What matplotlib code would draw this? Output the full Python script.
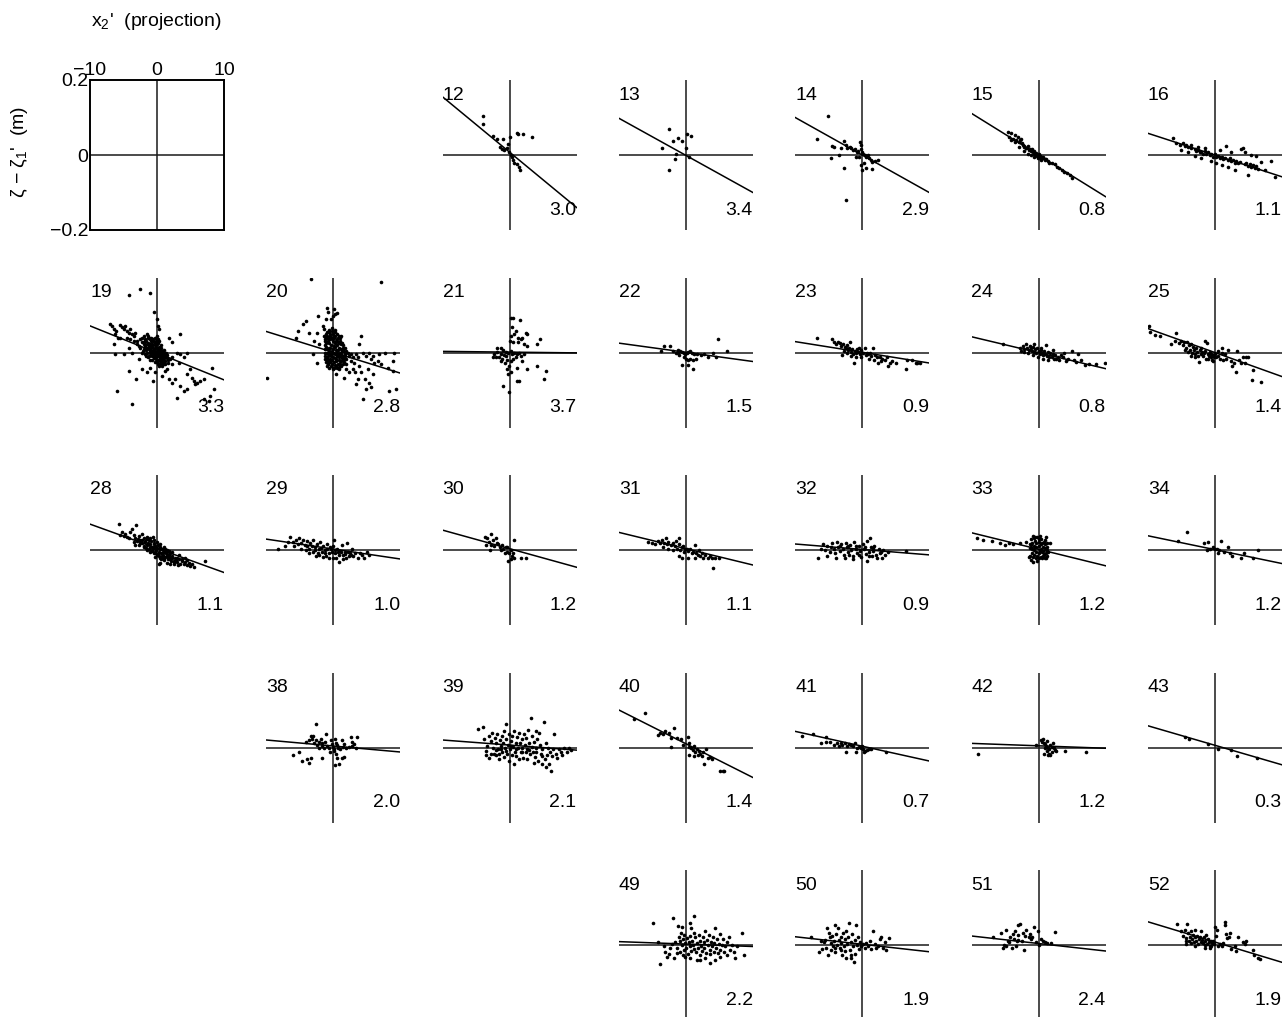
import matplotlib
matplotlib.use("Agg")
import matplotlib.pyplot as plt

plt.rcParams['font.family'] = ['Liberation Sans', 'DejaVu Sans']
plt.rcParams['mathtext.fontset'] = 'custom'
plt.rcParams['mathtext.rm'] = 'Liberation Sans'
plt.rcParams['mathtext.it'] = 'Liberation Sans:italic'

# ---------------- data (x2' projection, zeta difference in m) ----------------
pts_12 = [(-3.98,0.104),(-3.98,0.082),(-2.49,0.051),(-1.84,0.044),(-1.0,0.044),(0,0.047),(-1.44,0.022),
          (-1.19,0.016),(-0.85,0.013),(-0.35,0.020),(-0.2,0.029),(-0.05,0.007),(0.15,0),(0.3,-0.004),
          (0.55,-0.013),(0.65,-0.020),(1.04,-0.025),(1.39,-0.031),(1.54,-0.040),(1.14,0.060),(1.24,0.057),
          (2.04,0.057),(3.38,0.048)]
pts_13 = [(-2.49,0.069),(-1.89,0.037),(-1.24,0.046),(-0.65,0.037),(0.1,0.055),(0.8,0.052),(0,0.020),
          (-3.58,0.018),(-1.49,0.003),(-1.64,-0.011),(0.5,-0.004),(-2.54,-0.040)]
pts_14 = [(-5.12,0.104),(-6.82,0.043),(-4.48,0.025),(-4.23,0.022),(-4.73,-0.009),(-3.48,0),(-3.23,0.020),
          (-2.74,0.037),(-2.49,0.027),(-2.24,0.018),(-1.89,0.022),(-1.64,0.018),(-1.34,0.013),(-1.14,0.016),
          (-0.85,0.009),(-0.65,0.011),(-0.35,0.036),(-0.25,0.027),(-0.25,0.016),(-0.05,0.007),(0.15,0.002),
          (0.35,0),(0.55,-0.004),(0.85,0),(1.0,-0.009),(1.24,-0.013),(1.49,-0.018),(1.84,-0.016),
          (2.34,-0.014),(0.25,-0.020),(-0.25,-0.027),(0,-0.040),(0.5,-0.034),(1.49,-0.037),(-2.74,-0.034),
          (-2.39,-0.120),(-1.0,-0.004),(-0.5,-0.004)]
pts_15 = [(-4.58,0.062),(-4.08,0.058),(-3.58,0.053),(-4.33,0.049),(-3.83,0.044),(-3.33,0.040),(-3.08,0.049),
          (-2.84,0.036),(-2.59,0.044),(-2.49,0.031),(-2.84,0.022),(-2.34,0.027),(-2.09,0.022),(-1.84,0.018),
          (-1.59,0.025),(-1.49,0.013),(-1.19,0.011),(-1.0,0.016),(-0.85,0.007),(-0.70,0.004),(-0.50,0.002),
          (-0.35,0),(-0.20,-0.003),(0,0.002),(0.15,-0.005),(0.30,-0.007),(0.50,-0.004),(0.70,-0.009),
          (0.90,-0.012),(1.14,-0.011),(1.39,-0.016),(1.64,-0.020),(1.99,-0.022),(2.39,-0.025),(2.79,-0.031),
          (3.13,-0.034),(3.48,-0.040),(3.88,-0.044),(4.28,-0.049),(4.63,-0.053),(4.98,-0.060),(-0.6,-0.004),
          (-0.1,-0.009),(0.4,-0.013),(-1.09,0),(-1.59,0.004),(-2.09,0.011),(-3.58,0.036),(-4.08,0.040),
          (-2.69,0.040),(-1.8,0.020),(-1.3,0.015),(-0.9,0.010),(-0.4,0.005),(0.2,-0.002),(0.6,-0.006),
          (1.0,-0.010),(-2.2,0.025),(-0.7,0.012),(0.4,-0.010)]
pts_16 = [(-6.22,0.046),(-5.72,0.031),(-5.22,0.027),(-4.73,0.031),(-4.48,0.025),(-4.23,0.028),(-3.98,0.022),
          (-3.48,0.020),(-2.99,0.016),(-2.74,0.011),(-2.49,0.013),(-2.24,0.007),(-1.99,0.009),(-1.74,0.004),
          (-1.49,0.011),(-1.24,0.002),(-1.0,0.007),(-0.75,0),(-0.5,0.004),(-0.25,-0.004),(0,0.002),
          (0.25,-0.005),(0.5,-0.002),(0.75,-0.009),(1.0,-0.004),(1.24,-0.011),(1.49,-0.007),(1.74,0.025),
          (1.99,-0.013),(2.24,-0.009),(2.49,-0.016),(2.74,-0.012),(2.99,-0.020),(3.23,-0.016),(3.48,-0.022),
          (3.73,-0.018),(3.98,0.016),(4.23,0.020),(4.48,-0.025),(4.73,-0.020),(4.98,-0.028),(5.22,-0.025),
          (5.47,-0.031),(5.72,-0.027),(5.97,-0.034),(6.22,-0.030),(6.47,-0.036),(6.97,-0.018),(7.46,-0.040),
          (8.46,-0.016),(8.96,-0.058),(4.98,-0.053),(2.99,-0.040),(1.99,-0.031),(1.0,-0.027),(0.25,-0.020),
          (-0.5,-0.016),(-1.99,-0.009),(-2.99,-0.002),(-3.98,0.009),(-2.49,0.022),(-1.49,0.020),(-3.48,0.027),
          (-4.98,0.013),(5.47,0),(6.22,-0.002),(4.48,0.007),(2.49,0.009),(0.75,0.013)]
pts_19 = [(-7.06,0.076),(-6.72,0.071),(-6.47,0.062),(-6.07,0.058),(-5.57,0.073),(-5.22,0.067),(-4.98,0.062),
          (-4.73,0.071),(-4.48,0.058),(-4.23,0.053),(-3.98,0.064),(-3.73,0.049),(-3.48,0.044),(-3.23,0.053),
          (-6.22,0.049),(-6.47,0.022),(-6.22,-0.003),(-4.98,-0.003),(-4.23,0.013),(-3.73,0),(-2.99,0.031),
          (-2.74,0.018),(-2.49,0.036),(-2.24,0.027),(-1.99,0.022),(-1.74,0.031),(-1.49,0.013),(-1.24,0.018),
          (-1.0,0.009),(-0.75,0.022),(-0.5,0.004),(-0.25,0.013),(-0.1,0),(0.1,0.007),(0.25,-0.004),(0.5,0.002),
          (0.75,-0.009),(1.0,-0.002),(1.24,-0.013),(1.49,-0.007),(0.4,-0.018),(-0.25,-0.013),(-0.75,-0.020),
          (-1.24,-0.009),(-1.74,-0.004),(-2.24,0),(0.6,0.013),(0,0.022),(-0.75,0.036),(-1.24,0.040),
          (-1.49,0.049),(0.1,0.071),(0.25,0.062),(-0.5,0.108),(0,0.089),(-4.23,0.154),(-2.49,0.169),
          (-1.0,0.160),(1.74,0.040),(2.24,0.027),(3.48,0.049),(2.99,0),(3.48,-0.004),(3.98,-0.013),(4.48,0),
          (3.23,-0.027),(2.24,-0.031),(1.49,-0.044),(1.24,-0.049),(0.75,-0.062),(0.25,-0.036),(-0.25,-0.053),
          (-0.6,-0.076),(-1.0,-0.040),(-1.49,-0.053),(-2.24,-0.044),(-2.74,-0.018),(-3.08,-0.071),
          (-4.23,-0.049),(-5.97,-0.102),(-3.73,-0.138),(1.74,-0.071),(2.24,-0.080),(2.74,-0.071),
          (3.48,-0.089),(3.98,-0.102),(2.99,-0.120),(4.48,-0.098),(5.47,-0.076),(5.97,-0.080),(6.47,-0.076),
          (6.97,-0.071),(8.21,-0.040),(8.46,-0.096),(7.71,-0.129),(7.96,-0.116),(6.97,-0.123),(4.48,-0.058),
          (5.22,-0.067),(5.72,-0.084),(4.98,-0.044),(2.24,-0.013),(1.99,-0.018),(1.59,-0.027),(1.0,-0.027),
          (0.75,-0.036),(0.5,-0.022),(-0.25,-0.004),(-0.75,0),(-1.09,0.002),(-1.59,0.007),(-1.99,0.009),
          (-2.49,0.013),(-2.99,0.022),(-3.48,0.031),(-3.98,0.036),(-4.48,0.040),(-5.47,0.040),(-5.87,0.040),
          (-1.2,0.02),(-0.8,0.015),(-0.4,0.01),(0,0.005),(0.4,0.0),(0.8,-0.005),(1.2,-0.01),(-1.0,0.005),
          (-0.6,0.0),(-0.2,-0.005),(0.2,-0.01),(0.6,-0.015),(-1.4,0.025),(-0.9,0.03),(-0.3,0.025),(0.3,0.015),
          (0.9,0.005),(1.4,-0.005),(-0.5,-0.01),(0.1,-0.02),(0.7,-0.025),(1.1,-0.02),(-1.6,0.01),(-0.1,0.015),
          (-1.8,0.035),(-1.4,0.04),(-1.0,0.035),(-0.6,0.03),(-0.2,0.03),(0.2,0.025),(-1.8,0.018),(-1.2,0.01),
          (-0.8,0.005),(-0.4,0.0),(0.0,-0.008),(0.4,-0.012),(0.8,-0.018),(1.2,-0.022),(1.5,-0.015),(-1.5,0.0),
          (-1.0,-0.006),(-0.5,-0.015),(0.0,-0.025),(0.5,-0.03),(1.0,0.008),(0.6,0.02),(0.2,0.035),(-0.3,0.04),
          (-2.0,0.028),(-0.7,0.02),(0.3,-0.002),(0.9,-0.008),(-1.3,-0.012),(-0.2,-0.018),
          (-2.2,0.04),(-1.9,0.045),(-1.6,0.03),(-1.3,0.045),(-1.1,0.022),(-0.85,0.04),(-0.55,0.035),
          (-0.35,0.02),(-0.05,0.035),(0.15,0.01),(0.45,0.008),(0.7,0.003),(0.95,-0.012),(1.3,-0.002),
          (1.6,-0.02),(-1.7,-0.008),(-1.1,-0.02),(-0.7,-0.01),(-0.35,-0.025),(0.15,-0.03),(0.55,-0.005),
          (0.85,-0.03),(1.2,-0.03),(-0.05,0.045),(0.35,0.03),(-2.1,0.005),(-1.55,0.022),(-0.95,0.012),
          (-0.15,0.0),(0.65,-0.012)]
pts_20 = [(-3.33,0.197),(7.11,0.188),(-9.9,-0.069),(-1.0,0.120),(-0.85,0.108),(0.15,0.117),(0.3,0.102),
          (0.5,0.105),(-1.09,0.089),(-0.35,0.089),(0,0.098),(-2.34,0.098),(-4.08,0.084),(-4.58,0.076),
          (-5.32,0.058),(-3.58,0.053),(-2.49,0.053),(-1.59,0.071),(-1.34,0.064),(-5.57,0.040),(-2.84,0.031),
          (-2.09,0.022),(-3.08,-0.004),(-2.49,-0.028),(-0.85,-0.031),(0.4,-0.018),(1.14,-0.022),(1.64,-0.018),
          (1.89,-0.031),(2.39,-0.009),(2.64,-0.022),(2.89,-0.013),(3.13,-0.027),(3.38,-0.004),(3.88,-0.036),
          (4.38,0),(4.13,0.044),(5.37,0),(6.12,-0.027),(6.62,-0.022),(7.11,-0.031),(7.76,0),(9.1,0),
          (8.86,-0.049),(9.35,-0.096),(8.36,-0.102),(5.87,-0.058),(5.37,-0.080),(4.88,-0.098),(4.38,-0.123),
          (3.63,-0.071),(3.38,-0.084),(2.89,-0.044),(2.39,-0.053),(1.89,-0.044),(1.64,-0.067),(0.9,-0.044),
          (0.4,-0.058),(-0.1,-0.040),(-0.7,-0.022),(5.12,-0.044),(3.88,0.022),(1.14,0.022),(1.39,0.009),
          (1.89,0.004),(2.19,0),(2.64,-0.004),(3.63,-0.013),(4.88,-0.009),(5.62,-0.016),(5.87,-0.009),
          (6.87,-0.004),(3.28,-0.053),(4.13,-0.053),(4.78,-0.071),(5.62,-0.093),(8.11,-0.040),(8.86,-0.022),
          (-1.0,0.04),(-0.5,0.045),(0,0.05),(0.5,0.035),(-1.2,0.02),(-0.6,0.025),(0,0.03),(0.6,0.02),
          (1.2,0.01),(-1.2,0.0),(-0.6,0.005),(0,0.01),(0.6,0.0),(1.2,-0.005),(1.8,-0.01),(-1.0,-0.015),
          (-0.4,-0.01),(0.2,-0.015),(0.8,-0.02),(1.4,-0.02),(-0.8,-0.03),(-0.2,-0.03),(0.4,-0.035),
          (1.0,-0.03),(-0.3,0.04),(0.3,0.045),(-0.9,0.01),(0.9,0.025),(-0.3,-0.02),(0.3,0.015),(1.5,0.005),
          (-1.3,0.03),(0.1,-0.04),(-0.6,0.035),(0.6,-0.01),(-0.1,0.0),(1.0,0.0),(-0.5,-0.025),
          (-1.1,0.05),(-0.7,0.055),(-0.2,0.058),(0.3,0.055),(0.8,0.045),(-1.3,0.035),(-0.8,0.04),(-0.2,0.04),
          (0.4,0.03),(1.0,0.03),(1.5,0.02),(-1.1,0.025),(-0.4,0.02),(0.2,0.025),(0.8,0.012),(1.4,0.012),
          (-1.3,0.01),(-0.7,0.012),(-0.2,0.005),(0.4,0.008),(1.1,-0.008),(1.7,-0.003),(-1.2,-0.008),
          (-0.6,-0.005),(0.0,-0.012),(0.5,-0.005),(1.3,-0.015),(-1.1,-0.025),(-0.5,-0.018),(0.1,-0.025),
          (0.7,-0.03),(1.2,-0.035),(-0.7,-0.04),(0.0,-0.045),(0.5,-0.04),(1.6,-0.025),(-0.9,0.045),(0.7,0.04),
          (-0.9,-0.02),(0.9,-0.012),
          (-1.2,0.045),(-0.9,0.055),(-0.45,0.05),(0.05,0.045),(0.55,0.05),(1.0,0.04),(-1.15,0.015),
          (-0.85,0.03),(-0.45,0.035),(0.15,0.038),(0.65,0.028),(1.25,0.025),(1.7,0.012),(-1.0,0.0),
          (-0.5,0.012),(0.1,0.018),(0.7,0.006),(1.3,0.003),(1.8,0.002),(-0.8,-0.01),(-0.3,-0.004),
          (0.3,-0.005),(0.9,-0.004),(1.5,-0.01),(-1.25,-0.018),(-0.7,-0.022),(-0.15,-0.02),(0.45,-0.022),
          (1.0,-0.022),(1.5,-0.03),(-0.4,-0.035),(0.25,-0.032),(0.8,-0.038),(-1.0,-0.035),(-0.25,0.065),
          (0.2,0.06),(-0.6,0.06),(1.9,-0.018),(1.2,0.045),(-1.35,0.045)]
pts_21 = [(0.15,0.093),(0.55,0.093),(1.54,0.087),(0.4,0.067),(0.9,0.058),(0.15,0.044),(0.65,0.049),
          (1.24,0.040),(1.64,0.036),(1.89,0.040),(2.39,0.053),(2.54,0.049),(0.05,0.031),(0.55,0.027),
          (1.24,0.027),(2.14,0.022),(2.64,0.018),(4.03,0.022),(4.53,0.036),(-1.84,0.013),(-1.34,0.011),
          (-0.95,0.007),(-0.6,0.002),(-0.25,-0.002),(0.25,0.004),(0.65,0),(1.04,-0.004),(1.39,0),
          (1.64,-0.009),(2.14,-0.004),(-2.34,-0.004),(-2.09,-0.011),(-1.59,-0.013),(-1.09,-0.016),
          (-0.6,-0.009),(-0.35,-0.020),(0.15,-0.022),(0.55,-0.018),(0.9,-0.013),(-0.1,-0.036),(-0.45,-0.044),
          (0.15,-0.053),(1.04,-0.040),(1.89,-0.022),(2.64,-0.043),(4.03,-0.036),(5.37,-0.049),(5.12,-0.071),
          (1.04,-0.076),(1.39,-0.076),(-0.25,-0.058),(-0.95,-0.089),(-0.1,-0.105),(-1.34,-0.004),
          (-0.85,-0.007),(-1.94,0.002),(-2.44,-0.011),(-1.24,-0.022),(-0.75,-0.027),(0.4,-0.004)]
pts_22 = [(-3.23,0.018),(-2.34,0.018),(-3.73,0.003),(-1.49,0),(-1.24,0.007),(-0.85,0.004),(-0.65,0.002),
          (-0.35,-0.002),(-0.15,-0.004),(0.15,0),(0.35,0.002),(0.65,0.004),(0.85,-0.002),(1.24,-0.004),
          (1.64,-0.004),(2.24,-0.007),(2.74,-0.004),(3.33,-0.013),(3.98,0),(4.48,-0.013),(4.83,0.037),
          (6.12,0.004),(-0.25,-0.013),(0,-0.016),(0.35,-0.020),(0.65,-0.016),(1.0,-0.020),(1.49,-0.018),
          (-0.65,-0.034),(0.25,-0.034),(1.0,-0.044),(-1.24,-0.002),(-1.0,-0.007),(-1.99,0.004)]
pts_23 = [(-6.82,0.038),(-4.48,0.036),(-4.23,0.027),(-3.98,0.022),(-3.63,0.028),(-3.33,0.025),(-3.13,0.018),
          (-2.99,-0.007),(-2.84,0.022),(-2.64,0.016),(-2.49,0.011),(-2.34,0.020),(-2.14,0.007),(-1.99,0.013),
          (-1.84,0.027),(-1.64,0.002),(-1.49,0.009),(-1.34,-0.004),(-1.24,-0.027),(-1.14,0.004),(-1.0,-0.002),
          (-0.85,0.009),(-0.65,0.002),(-0.5,0.013),(-0.35,-0.004),(-0.15,0.007),(0.15,-0.002),(0.35,0.013),
          (0.5,-0.007),(0.65,0),(0.85,-0.004),(1.14,-0.002),(1.34,-0.009),(1.64,0.011),(1.84,-0.007),
          (2.14,-0.013),(2.34,-0.027),(2.64,-0.011),(2.99,-0.016),(3.33,-0.020),(3.63,-0.013),(3.83,-0.036),
          (4.13,-0.028),(4.48,-0.022),(4.98,-0.027),(6.47,-0.043),(6.62,-0.020),(7.46,-0.020),(7.96,-0.027),
          (8.21,-0.027),(8.61,-0.027),(-2.24,0),(-1.74,-0.009),(-2.74,0.004),(-1.0,-0.013),(-0.25,-0.013),
          (1.0,-0.016),(1.74,-0.020),(2.74,-0.022)]
pts_24 = [(-5.32,0.024),(-2.69,0.013),(-2.34,0.018),(-2.09,0.009),(-1.84,0.022),(-1.69,0.013),(-1.49,0.007),
          (-1.34,0.018),(-1.19,0.011),(-1.0,0.004),(-0.85,0.016),(-0.7,0.002),(-0.5,0.009),(-0.35,-0.002),
          (-0.2,0.012),(0,0.004),(0.15,-0.004),(0.3,0.007),(0.5,0),(0.65,-0.007),(0.8,0.004),(1.0,-0.004),
          (1.14,0.020),(1.29,-0.009),(1.49,0.002),(1.64,-0.011),(1.79,-0.002),(1.99,-0.013),(2.14,-0.004),
          (2.29,-0.016),(2.49,-0.007),(2.64,-0.018),(2.89,-0.011),(3.13,-0.020),(3.38,-0.007),(3.63,-0.013),
          (3.88,0),(4.13,-0.022),(4.38,-0.016),(4.98,0.004),(5.27,-0.020),(5.62,-0.025),(5.97,-0.004),
          (6.37,-0.020),(6.87,-0.034),(7.61,-0.031),(8.61,-0.031),(9.9,-0.028),(-1.59,-0.002),(-0.85,-0.007),
          (-0.1,-0.011),(0.65,-0.016),(1.39,-0.020),(-0.6,0.022),(0.4,0.013),(2.14,0.007),(-2.09,0.002),
          (-2.59,0.004)]
pts_25 = [(-9.85,0.071),(-9.7,0.055),(-8.86,0.046),(-8.21,0.043),(-6.57,0.022),(-5.72,0.052),(-5.97,0.031),
          (-5.37,0.025),(-5.07,0.031),(-4.73,0.020),(-4.58,0.027),(-4.23,0.013),(-4.08,0.028),(-3.88,0.020),
          (-3.73,0.007),(-3.58,0.022),(-3.38,0),(-3.23,0.016),(-3.08,0.007),(-2.89,-0.004),(-2.74,0.011),
          (-2.59,0.002),(-2.39,-0.025),(-2.24,0.007),(-2.09,-0.004),(-1.89,0.002),(-1.74,-0.009),
          (-1.59,-0.002),(-1.49,0.031),(-1.39,0.004),(-1.24,-0.016),(-1.09,0.025),(-1.0,-0.004),(-0.9,-0.009),
          (-0.75,0.002),(-0.6,-0.013),(-0.5,-0.004),(-0.4,-0.020),(-0.25,-0.007),(-0.1,-0.011),(0,-0.004),
          (0.25,-0.013),(0.5,-0.009),(0.75,-0.018),(1.09,0.013),(1.49,-0.004),(1.99,0.007),(2.39,-0.022),
          (2.59,-0.036),(2.89,-0.028),(3.23,-0.053),(3.38,0.004),(3.58,-0.020),(3.88,-0.027),(4.23,-0.013),
          (4.58,-0.028),(4.73,-0.011),(4.98,-0.013),(5.57,-0.073),(5.72,-0.046),(6.97,-0.078),(1.74,-0.018),
          (1.24,-0.020),(-1.99,0.011),(-2.49,-0.009),(-2.99,-0.013),(-3.48,-0.009),(-3.98,0.002),
          (-4.48,0.007),(-1.0,-0.018),(-0.25,-0.022),(0.5,0.004),(1.0,0)]
pts_28 = [(-5.72,0.069),(-3.08,0.067),(-5.22,0.049),(-4.73,0.044),(-3.98,0.049),(-4.23,0.031),(-3.48,0.040),
          (-3.23,0.031),(-2.99,0.025),(-2.74,0.037),(-2.49,0.027),(-2.24,0.018),(-1.99,0.031),(-1.74,0.022),
          (-1.49,0.013),(-1.24,0.027),(-1.0,0.016),(-0.75,0.007),(-0.6,0.036),(-0.5,0.020),(-0.25,0.011),
          (-0.1,0),(0.1,0.013),(0.25,-0.004),(0.4,0.004),(0.6,-0.009),(0.75,0.002),(0.9,-0.013),(1.09,-0.004),
          (1.24,-0.018),(1.39,-0.009),(1.59,-0.020),(1.74,-0.013),(1.99,-0.025),(2.24,-0.016),(2.49,-0.028),
          (2.74,-0.022),(2.99,-0.031),(3.23,-0.025),(3.48,-0.036),(3.73,-0.028),(3.98,-0.037),(4.23,-0.031),
          (4.48,-0.040),(4.73,-0.034),(4.98,-0.043),(5.22,-0.037),(5.47,-0.046),(7.21,-0.028),(0.25,-0.036),
          (0.5,-0.034),(-2.74,0.013),(-1.99,0.007),(-1.49,0),(-1.0,-0.004),(-0.5,-0.009),(-0.25,-0.018),
          (0,-0.013),(0.5,-0.022),(1.0,-0.027),(1.49,-0.034),(1.99,-0.036),(2.49,-0.037),(1.0,0.007),(1.49,0),
          (1.74,-0.002),(1.99,-0.007),(-3.48,0.022),(-3.23,0.013),(-3.73,0.055),(-4.48,0.036),(-4.98,0.037),
          (-5.47,0.040),(-2.24,0.044),(-1.49,0.036),(-1.0,0.031),(-0.5,0.028),(0,0.022),(0.5,0.016),
          (1.24,0.004),(2.24,-0.004),(3.23,-0.013),(4.23,-0.020),(-1.24,0.004),(-0.75,0),(-0.25,-0.009),
          (0.25,-0.016),(0.75,-0.020),(1.49,-0.016),(2.99,-0.020),(3.73,-0.025),(4.48,-0.027),
          (-2.8,0.03),(-2.5,0.018),(-2.2,0.028),(-2.0,0.012),(-1.8,0.025),(-1.6,0.005),(-1.3,0.02),(-1.1,0.008),
          (-0.9,0.025),(-0.7,-0.002),(-0.4,0.015),(-0.3,-0.004),(0.0,0.005),(0.2,-0.01),(0.4,0.008),
          (0.7,-0.015),(0.9,-0.004),(1.1,-0.022),(1.3,0.0),(1.6,-0.025),(1.8,-0.018),(2.1,-0.03),(2.3,-0.022),
          (2.6,-0.033),(2.8,-0.026),(3.1,-0.04),(-1.5,0.03),(-0.5,0.005),(0.6,-0.025),(1.5,-0.01)]
pts_29 = [(-8.31,0.004),(-7.16,0.011),(-6.82,0.022),(-6.47,0.036),(-6.07,0.022),(-5.57,0.027),(-5.32,0.016),
          (-5.07,0.031),(-4.83,0.020),(-4.48,0.027),(-4.18,0.013),(-3.98,0.025),(-3.68,0.004),(-3.48,0.020),
          (-3.18,0.011),(-2.99,0.027),(-2.69,0),(-2.49,0.016),(-2.19,0.004),(-1.99,0.022),(-1.69,-0.004),
          (-1.49,0.011),(-1.19,0),(-1.0,0.016),(-0.7,-0.009),(-0.5,0.007),(-0.2,-0.004),(0,0.011),(0.15,0.027),
          (0.3,-0.009),(0.5,0.002),(0.8,-0.013),(1.0,-0.002),(1.29,0.013),(1.49,-0.013),(1.79,-0.004),
          (1.99,0.020),(2.29,-0.016),(2.49,-0.007),(2.79,0.002),(2.99,-0.016),(3.28,-0.009),(3.63,-0.020),
          (3.98,-0.007),(4.28,-0.013),(4.63,-0.020),(4.98,-0.004),(5.37,-0.013),(-3.58,-0.009),(-2.59,-0.016),
          (-1.59,-0.018),(-0.6,-0.020),(0.4,-0.022),(0.9,-0.031),(1.89,-0.022),(-3.08,-0.004),(-4.08,0),
          (-4.83,0.004),(-5.82,0.011),(-2.09,-0.013),(-1.09,-0.016),(-0.1,-0.020),(1.39,-0.025),
          (-2.8,0.008),(-1.8,0.006),(-0.9,0.004),(0.2,-0.001),(1.2,-0.006),(2.2,-0.004),(-3.9,0.012),
          (-2.3,-0.008),(-1.3,-0.008),(-0.3,0.002),(0.7,-0.004),(1.7,-0.010),(2.6,-0.012)]
pts_30 = [(-3.73,0.036),(-3.33,0.031),(-2.74,0.043),(-2.44,0.027),(-2.09,0.031),(-1.94,0.020),(-3.08,0.022),
          (-2.74,0.013),(-2.34,0.011),(-1.74,0.016),(-1.44,0.007),(-1.24,0),(-0.95,0.002),(-0.75,-0.007),
          (-0.6,0.009),(-0.35,-0.004),(-0.1,-0.009),(0.15,0),(0.4,-0.016),(0.55,-0.007),(0.15,-0.025),
          (-0.25,-0.028),(0.65,-0.020),(1.64,-0.020),(2.39,-0.020),(-3.58,0.013),(-2.94,0),(-1.09,0.013),
          (-0.45,0.007),(0.65,0.028)]
pts_31 = [(-5.65,0.022),(-5.0,0.020),(-4.55,0.016),(-4.22,0.025),(-3.9,0.018),(-3.57,0.028),(-3.25,0.020),
          (-2.92,0.031),(-2.79,0.016),(-2.6,0.022),(-2.27,0.013),(-1.95,0.020),(-1.62,0.011),(-1.49,0.025),
          (-1.3,0.004),(-1.1,0.016),(-0.97,0.031),(-0.84,0),(-0.65,0.007),(-0.45,0.011),(-0.32,-0.004),
          (-0.19,0.002),(0.19,0.004),(0.32,-0.002),(0.65,0.002),(0.84,-0.009),(1.1,-0.004),(1.3,0.013),
          (1.49,-0.007),(1.75,-0.013),(1.95,0),(2.14,-0.016),(2.4,-0.007),(2.6,-0.020),(2.92,-0.013),
          (3.25,-0.020),(3.57,-0.016),(3.9,-0.022),(4.35,-0.020),(5.0,-0.022),(4.09,-0.049),(-1.1,-0.016),
          (-0.65,-0.020),(0.32,-0.022),(1.3,-0.020),(-1.95,0),(-2.6,0.002),(-3.44,0.007)]
pts_32 = [(-6.62,-0.022),(-6.17,0.004),(-5.84,0.016),(-5.52,0),(-5.19,0.011),(-4.87,-0.004),(-4.55,0.020),
          (-4.22,0.004),(-4.03,-0.009),(-3.77,0.022),(-3.57,0.009),(-3.38,-0.002),(-3.12,0.016),(-2.92,0.002),
          (-2.73,-0.013),(-2.47,0.020),(-2.27,0.007),(-2.08,-0.004),(-1.82,0.013),(-1.62,0),(-1.43,-0.016),
          (-1.17,0.022),(-0.97,0.004),(-0.78,-0.009),(-0.52,0.011),(-0.32,-0.002),(-0.13,-0.018),(0.13,0.016),
          (0.32,0.002),(0.52,-0.011),(0.78,0.025),(0.97,-0.004),(1.17,0.031),(1.3,0.007),(1.43,-0.016),
          (1.62,-0.002),(1.82,0.011),(2.08,-0.013),(2.27,-0.022),(2.47,0.002),(2.73,-0.009),(2.92,-0.020),
          (3.12,0),(3.38,-0.013),(3.9,-0.004),(6.49,-0.002),(0.65,-0.028),(-1.3,-0.025),(-2.6,-0.022),
          (-3.9,-0.020),(-5.19,-0.016),(-4.6,0.009),(-3.3,0.012),(-2.1,0.010),(-0.9,0.012),(0.4,0.008),
          (1.6,0.006),(2.8,-0.004),(-0.5,-0.012),(-1.9,-0.012),(1.0,-0.015)]
pts_33 = [(-9.16,0.031),(-8.31,0.027),(-7.01,0.025),(-5.71,0.020),(-5.06,0.013),(-4.42,0.018),(-3.77,0.016),
          (-2.79,0.020),(-1.82,0.022),(-1.17,0.013),(-0.84,0.037),(1.1,0.036),(1.75,0.018),(1.43,-0.004),
          (-1.49,-0.018),(-1.17,-0.027),(-0.84,-0.031),(-0.19,-0.028),(0.45,-0.022),(0.78,-0.013),(1.1,-0.020),
          (-1.0,0.02),(-0.5,0.025),(0,0.03),(0.5,0.02),(1.0,0.015),(-1.2,0.005),(-0.6,0.01),(0,0.012),
          (0.6,0.008),(1.2,0.0),(-1.0,-0.008),(-0.4,-0.004),(0.2,-0.002),(0.8,-0.01),(1.3,-0.015),(-0.8,-0.018),
          (-0.2,-0.015),(0.4,-0.018),(1.0,-0.022),(-0.3,0.018),(0.3,0.004),(-0.7,0.0),(0.7,-0.002),(0.0,-0.008),
          (-0.5,0.035),(0.2,0.038),(0.9,0.028),(-1.1,0.03),(-0.7,0.032),(-0.2,0.035),(0.4,0.03),(0.8,0.022),
          (1.2,0.02),(-1.2,0.015),(-0.3,0.008),(0.3,0.015),(0.9,0.005),(1.3,0.008),(-1.2,-0.015),
          (-0.6,-0.012),(0.0,-0.02),(0.6,-0.015),(1.1,-0.008),(-0.9,0.002),(0.1,0.022),(-0.4,-0.022),
          (0.5,-0.005)]
pts_34 = [(-5.52,0.025),(-4.22,0.049),(-1.62,0.018),(-0.97,0.022),(-0.65,0.004),(-0.32,0.007),(0,0.004),
          (0.32,0.002),(0.65,0),(0.97,0.025),(1.3,-0.004),(1.95,0.007),(2.27,-0.007),(2.6,-0.016),(3.9,-0.022),
          (4.42,-0.009),(5.71,-0.020),(6.49,0),(-1.17,0),(0.52,-0.007)]
pts_38 = [(-2.54,0.062),(-3.38,0.031),(-3.03,0.031),(-3.63,0.020),(-4.13,0.016),(-3.23,0.022),(-2.89,0.013),
          (-2.64,0.020),(-2.39,0.007),(-2.14,0.016),(-1.89,0.022),(-1.74,0.004),(-1.64,0.011),(-1.39,0),
          (-1.24,0.016),(-1.14,0.036),(-0.9,0.004),(-0.65,-0.002),(-0.4,0.020),(-0.25,0.009),(-0.05,0.002),
          (0.1,-0.004),(0.25,0.022),(0.35,0.011),(0.6,0.007),(0.75,0),(0.95,-0.004),(1.24,0.020),(1.44,0.002),
          (1.59,0.009),(1.94,0),(2.59,0.028),(2.84,0.016),(3.08,0.009),(3.33,-0.002),(3.58,0.028),(2.74,0.004),
          (-6.02,-0.020),(-5.12,-0.013),(-4.63,-0.037),(-3.88,-0.031),(-3.63,-0.040),(-3.38,-0.028),
          (-1.64,-0.028),(0.1,-0.009),(0.35,-0.016),(0.6,-0.027),(0.25,-0.046),(0.85,-0.043),(1.34,-0.028),
          (1.59,-0.025),(2.34,0.002),(-0.55,-0.013),(-2.14,-0.002)]
pts_39 = [(-4.68,0.049),(-3.98,0.055),(-3.83,0.022),(-3.58,-0.009),(-3.33,0.004),(-3.08,0.031),(-2.84,0.018),
          (-2.59,0.040),(-2.49,0),(-2.34,-0.016),(-2.19,0.025),(-2.09,0.011),(-1.99,-0.020),(-1.84,0.036),
          (-1.69,-0.004),(-1.59,-0.031),(-1.49,0.020),(-1.34,0.004),(-1.19,0.031),(-1.09,-0.011),(-1.0,0.013),
          (-0.85,0.043),(-0.7,-0.002),(-0.6,0.064),(-0.5,0.022),(-0.35,-0.016),(-0.2,0.007),(-0.1,0.037),
          (0,-0.004),(0.15,0.018),(0.3,-0.020),(0.4,0.031),(0.5,0.002),(0.65,0.044),(0.8,-0.011),(0.9,0.013),
          (1.0,-0.022),(1.14,0.027),(1.29,-0.002),(1.39,0.040),(1.49,0.011),(1.64,-0.013),(1.79,0.022),
          (1.89,0),(1.99,-0.027),(2.14,0.037),(2.29,0.007),(2.39,-0.011),(2.49,0.025),(2.64,-0.004),
          (2.79,0.046),(2.89,0.013),(2.99,-0.018),(3.13,0.078),(3.28,0.002),(3.38,0.031),(3.48,-0.011),
          (3.63,0.016),(3.78,-0.025),(3.88,0.043),(3.98,0),(4.13,0.022),(4.28,-0.036),(4.38,0.040),
          (4.48,0.007),(4.63,-0.016),(4.78,-0.044),(4.88,-0.004),(5.12,0.067),(5.27,-0.031),(5.37,0.013),
          (5.47,-0.053),(5.62,-0.020),(5.77,0),(5.87,-0.043),(5.97,-0.011),(6.12,-0.062),(6.27,-0.022),
          (6.47,-0.004),(6.62,0.037),(6.87,-0.016),(7.11,-0.027),(7.36,-0.004),(7.61,-0.013),(7.86,-0.020),
          (8.11,0),(8.61,-0.011),(8.86,-0.002),(9.1,-0.007),(-2.84,-0.016),(-3.08,-0.027),(-3.58,-0.020),
          (-1.59,-0.016),(-0.85,-0.025),(-0.1,-0.036),(0.65,-0.044),(1.39,-0.031),(2.64,-0.031),(3.63,-0.040),
          (-2.09,-0.007),(-1.34,-0.004),(-0.6,-0.009),(0.15,0.004),(0.9,-0.004),(1.89,-0.013),(2.89,-0.007),
          (3.88,-0.013),(4.88,-0.022)]
pts_40 = [(-7.71,0.076),(-6.07,0.092),(-4.23,0.034),(-3.88,0.040),(-3.48,0.037),(-3.08,0.044),(-2.59,0.040),
          (-2.24,0.025),(-1.74,0.052),(-1.39,0.025),(-0.75,0.022),(-2.24,0.002),(0.25,0.028),(0.4,0.013),
          (0.5,0.002),(0.75,-0.002),(1.0,-0.007),(1.24,0.004),(1.39,-0.013),(1.59,-0.004),(1.74,-0.020),
          (1.89,-0.009),(2.09,-0.016),(2.39,-0.022),(2.59,-0.013),(2.74,-0.043),(2.99,-0.004),(3.23,-0.027),
          (3.58,-0.025),(3.88,-0.031),(5.07,-0.062),(5.47,-0.062),(5.72,-0.062),(0.5,-0.020),(1.24,-0.022),
          (-0.4,0.007)]
pts_41 = [(-8.96,0.031),(-7.31,0.036),(-5.47,0.027),(-6.12,0.011),(-5.47,0.016),(-4.83,0.016),(-4.23,0.007),
          (-3.73,0.011),(-3.48,0.004),(-3.23,0.013),(-2.99,0.007),(-2.64,0.011),(-2.34,0.004),(-1.99,0.009),
          (-1.64,0.007),(-1.34,0.004),(-1.14,0.011),(-0.85,0),(-0.5,0.002),(-0.25,-0.002),(0,0.004),
          (0.15,-0.004),(0.35,-0.009),(0.65,-0.007),(1.0,-0.004),(1.34,-0.004),(3.48,-0.013),(-2.49,-0.011),
          (-1.0,-0.011),(0.25,-0.013)]
pts_42 = [(-9.05,-0.018),(-0.35,0.007),(0.3,0.020),(0.5,0.016),(0.65,0.022),(0.8,0.013),(1.0,0.009),
          (1.14,0.004),(1.29,0.018),(1.49,0),(1.64,-0.004),(1.79,0.007),(1.99,0.002),(2.14,0.011),
          (2.29,-0.002),(2.39,-0.007),(0.8,-0.016),(1.39,-0.020),(1.64,-0.016),(1.79,-0.020),(1.99,-0.013),
          (2.64,-0.009),(3.98,-0.009),(7.11,-0.013),(0.9,-0.002),(1.29,-0.009)]
pts_43 = [(-4.48,0.027),(-3.88,0.024),(-1.0,0.009),(0.5,-0.003),(2.49,-0.007),(3.38,-0.022),(6.37,-0.027)]
pts_49 = [(-4.98,0.058),(-1.94,0.073),(1.14,0.076),(-1.24,0.051),(-0.6,0.049),(0.65,0.058),(0.8,0.044),
          (-3.93,-0.052),(-2.59,-0.025),(-2.84,-0.031),(-3.08,-0.020),(-2.34,-0.009),(-4.23,0.009),
          (-3.33,-0.004),(-2.09,0.002),(-1.59,0.007),(-1.34,-0.007),(-1.09,0.022),(-0.95,0.011),(-0.85,-0.018),
          (-0.75,0.031),(-0.6,0),(-0.45,0.016),(-0.35,-0.013),(-0.25,0.027),(-0.1,0.004),(0.05,-0.007),
          (0.15,0.018),(0.25,-0.025),(0.4,0.007),(0.55,-0.004),(0.65,0.025),(0.75,-0.016),(0.9,0.011),(1.04,0),
          (1.14,0.031),(1.24,-0.011),(1.39,0.020),(1.54,-0.020),(1.64,0.004),(1.74,-0.007),(1.89,0.027),
          (2.04,-0.027),(2.14,0.011),(2.24,-0.002),(2.39,-0.016),(2.54,0.020),(2.64,0.007),(2.74,-0.007),
          (2.89,0.036),(3.03,-0.022),(3.13,0.013),(3.23,0),(3.38,0.027),(3.53,-0.013),(3.63,-0.025),
          (3.73,0.009),(3.88,-0.004),(4.03,0.022),(4.13,-0.020),(4.23,0.004),(4.38,0.044),(4.53,-0.009),
          (4.63,0.016),(4.73,-0.022),(4.88,0.002),(5.02,0.028),(5.12,-0.013),(5.37,0),(5.52,0.016),(5.72,-0.020),
          (5.87,-0.004),(6.12,0.007),(6.37,0.022),(6.62,-0.013),(6.87,0),(7.11,-0.020),(7.36,-0.034),
          (7.61,-0.004),(8.36,0.033),(8.61,-0.028),(-0.1,-0.031),(0.65,-0.036),(1.64,-0.040),(2.89,-0.036),
          (3.63,-0.049),(4.38,-0.040),(-1.34,-0.022),(-1.84,-0.036),(-0.45,-0.027),(2.14,-0.040),(5.12,-0.031),
          (6.12,-0.027)]
pts_50 = [(-7.61,0.022),(-6.52,-0.020),(-6.02,-0.011),(-5.72,0.009),(-5.52,0.013),(-5.37,-0.007),(-5.22,0.044),
          (-5.02,0.031),(-4.88,0.020),(-4.73,0.004),(-4.63,-0.013),(-4.53,0.025),(-4.38,-0.004),(-4.23,0.011),
          (-4.13,0.052),(-4.03,-0.020),(-3.88,0.028),(-3.73,0),(-3.63,0.044),(-3.53,0.013),(-3.38,-0.009),
          (-3.23,0.022),(-3.13,0.004),(-3.03,-0.027),(-2.89,0.031),(-2.74,-0.004),(-2.64,0.016),(-2.54,-0.016),
          (-2.39,0.037),(-2.24,0.002),(-2.14,0.022),(-2.04,0.058),(-1.89,-0.013),(-1.74,0.007),(-1.64,-0.034),
          (-1.54,0.028),(-1.39,-0.004),(-1.24,-0.046),(-1.14,0.013),(-1.04,-0.025),(-0.9,0.053),(-0.75,0),
          (-0.65,0.022),(-0.55,-0.011),(-0.4,0.009),(-0.25,-0.004),(-0.15,-0.002),(0.1,0.002),(0.35,-0.007),
          (0.6,0.004),(0.85,-0.004),(1.09,0.011),(1.34,-0.011),(1.59,0.037),(1.84,0.002),(2.09,-0.009),
          (2.34,-0.002),(2.59,0.016),(2.84,0.020),(3.08,-0.007),(3.33,0.007),(3.58,-0.013),(3.93,0.018),
          (-6.12,0.011),(-5.12,-0.028),(-2.39,-0.036),(-1.64,-0.028),(-4.13,-0.009),(-3.13,-0.013)]
pts_51 = [(-6.82,0.020),(-5.67,0.031),(-4.83,0.040),(-5.32,-0.009),(-4.83,-0.004),(-4.33,0.007),(-4.18,0.022),
          (-3.98,-0.009),(-3.83,0.028),(-3.68,0.016),(-3.48,0.037),(-3.33,-0.004),(-3.18,0.011),(-3.08,0.052),
          (-2.99,0.027),(-2.69,0.055),(-2.49,0.011),(-2.34,0.031),(-2.19,-0.013),(-1.99,0.025),(-1.84,0.040),
          (-1.49,0.020),(-1.34,0.028),(-1.09,0.016),(-1.0,0.022),(-0.7,0.049),(-0.35,0.009),(-0.1,0.037),(0,0),
          (0.4,0.016),(0.65,0.011),(0.9,0.007),(1.29,0.004),(1.89,0.004),(2.49,0.034),(-2.99,0.013),(-5.17,0),
          (-4.58,0.011)]
pts_52 = [(-5.57,0.055),(-4.08,0.055),(-5.07,0.036),(-4.73,0.025),(-4.38,0.040),(-4.23,0.018),(-3.98,0.031),
          (-3.88,0.011),(-3.73,0.022),(-3.58,0.036),(-3.38,0.016),(-3.23,0.027),(-3.08,0.007),(-2.99,0.040),
          (-2.89,0.020),(-2.74,0.011),(-2.59,0.025),(-2.49,0.002),(-2.39,0.016),(-2.24,0.022),(-2.09,0.007),
          (-1.99,0.037),(-1.89,0.013),(-1.74,0.004),(-1.59,0.020),(-1.49,0),(-1.39,0.011),(-1.24,0.027),
          (-1.09,0.002),(-1.0,0.016),(-0.9,0.007),(-0.75,-0.002),(-0.6,0.011),(-0.5,-0.004),(-0.4,0.004),
          (-0.25,0.011),(-0.1,0.002),(0.1,0.049),(0.25,0.025),(0.4,0.040),(0.5,-0.002),(0.75,0.002),
          (1.0,-0.004),(1.24,0.004),(1.49,0.062),(1.59,0.052),(1.74,0.028),(1.89,0.018),(2.09,0.022),
          (2.24,0.031),(2.49,-0.011),(2.99,-0.004),(3.23,-0.016),(3.48,0.022),(4.23,0.007),(4.48,0.002),
          (4.73,0.011),(5.72,-0.013),(5.87,-0.027),(6.47,-0.036),(6.72,-0.037),(-4.23,0.002),(-2.99,-0.004),
          (-1.49,-0.009),(-0.75,-0.009),(-4.23,0.011),(-3.48,0.004)]

panel_ids    = [12, 13, 14, 15, 16, 19, 20, 21, 22, 23, 24, 25, 28, 29, 30, 31, 32, 33, 34,
                38, 39, 40, 41, 42, 43, 49, 50, 51, 52]
panel_rows   = [0, 0, 0, 0, 0, 1, 1, 1, 1, 1, 1, 1, 2, 2, 2, 2, 2, 2, 2,
                3, 3, 3, 3, 3, 3, 4, 4, 4, 4]
panel_cols   = [2, 3, 4, 5, 6, 0, 1, 2, 3, 4, 5, 6, 0, 1, 2, 3, 4, 5, 6,
                1, 2, 3, 4, 5, 6, 3, 4, 5, 6]
slope_labels = ["3.0", "3.4", "2.9", "0.8", "1.1", "3.3", "2.8", "3.7", "1.5", "0.9", "0.8", "1.4",
                "1.1", "1.0", "1.2", "1.1", "0.9", "1.2", "1.2", "2.0", "2.1", "1.4", "0.7", "1.2", "0.3",
                "2.2", "1.9", "2.4", "1.9"]
line_left  = [0.155, 0.098, 0.100, 0.111, 0.058, 0.071, 0.056, 0.003, 0.025, 0.029, 0.042, 0.064,
              0.069, 0.029, 0.053, 0.047, 0.016, 0.046, 0.038, 0.020, 0.020, 0.100, 0.043, 0.011, 0.058,
              0.009, 0.022, 0.024, 0.062]
line_right = [-0.140, -0.100, -0.100, -0.111, -0.058, -0.073, -0.055, -0.001, -0.024, -0.028, -0.043, -0.064,
              -0.060, -0.024, -0.046, -0.040, -0.013, -0.042, -0.036, -0.012, -0.007, -0.080, -0.036, -0.002,
              -0.046, -0.004, -0.018, -0.016, -0.046]
panel_points = [pts_12, pts_13, pts_14, pts_15, pts_16, pts_19, pts_20, pts_21, pts_22, pts_23, pts_24,
                pts_25, pts_28, pts_29, pts_30, pts_31, pts_32, pts_33, pts_34, pts_38, pts_39, pts_40,
                pts_41, pts_42, pts_43, pts_49, pts_50, pts_51, pts_52]

XLIM = (-10, 10)
YLIM = (-0.2, 0.2)

# ---------------- layout ----------------
W, H = 1283, 1017
fig = plt.figure(figsize=(W / 100, H / 100), dpi=100)
ax_w, ax_h = 134, 150
left0, colstep = 90, 176.3
top0, rowstep = 80, 197.5


def make_ax(r, c):
    left = left0 + c * colstep
    top = top0 + r * rowstep
    return fig.add_axes([left / W, 1 - (top + ax_h) / H, ax_w / W, ax_h / H])


LC = '#1a1a1a'
FS = 14

# key panel
ax = make_ax(0, 0)
ax.set_xlim(*XLIM)
ax.set_ylim(*YLIM)
ax.axhline(0, color=LC, lw=1.1)
ax.axvline(0, color=LC, lw=1.1)
for s in ax.spines.values():
    s.set_linewidth(1.4)
    s.set_color('k')
ax.xaxis.tick_top()
ax.set_xticks([-10, 0, 10])
ax.set_xticklabels(['\u221210', '0', '10'])
ax.set_yticks([-0.2, 0, 0.2])
ax.set_yticklabels(['\u22120.2', '0', '0.2'])
ax.tick_params(axis='both', length=0, labelsize=FS)
ax.tick_params(axis='x', pad=1)
ax.tick_params(axis='y', pad=1)

fig.text(156 / W, 1 - 22 / H, "x$_2$'  (projection)", ha='center', va='center', fontsize=FS)
fig.text(20 / W, 1 - 152 / H, "\u03b6 \u2212 \u03b6$_1$'  (m)", ha='center', va='center',
         rotation=90, fontsize=FS)

for pid, r, c, lab, yl, yr, pts in zip(panel_ids, panel_rows, panel_cols, slope_labels,
                                        line_left, line_right, panel_points):
    ax = make_ax(r, c)
    ax.set_xlim(*XLIM)
    ax.set_ylim(*YLIM)
    ax.axis('off')
    ax.axhline(0, color=LC, lw=1.1)
    ax.axvline(0, color=LC, lw=1.1)
    ax.plot([XLIM[0], XLIM[1]], [yl, yr], color='k', lw=1.1)
    xs = [p[0] for p in pts]
    ys = [p[1] for p in pts]
    ax.plot(xs, ys, 'o', color='k', ms=2.6, mew=0, clip_on=True)
    ax.text(0.0, 0.9, str(pid), transform=ax.transAxes, ha='left', va='center', fontsize=FS)
    ax.text(1.0, 0.133, lab, transform=ax.transAxes, ha='right', va='center', fontsize=FS)

fig.savefig('out.png', dpi=100)
